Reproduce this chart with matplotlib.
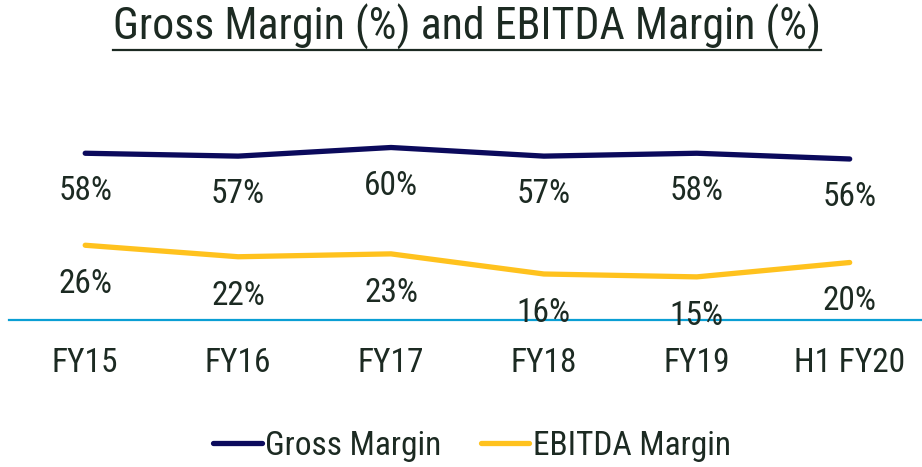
import matplotlib
matplotlib.use("Agg")
import matplotlib.pyplot as plt
from matplotlib.lines import Line2D

# data
periods = ["FY15", "FY16", "FY17", "FY18", "FY19", "H1 FY20"]
gross_margin = [58, 57, 60, 57, 58, 56]
ebitda_margin = [26, 22, 23, 16, 15, 20]

plt.rcParams['font.family'] = ['Roboto Condensed', 'DejaVu Sans']

txt_col = "#1c2a22"
navy = "#0b0a5c"
gold = "#ffc21e"
blue = "#0a9fd4"
fs = 24

fig = plt.figure(figsize=(9.22, 4.67), dpi=100)
ax = fig.add_axes([0.0095, 1 - 320 / 467, 0.995, (320 - 118.75) / 467])

x = list(range(len(periods)))
ax.plot(x, gross_margin, color=navy, lw=3.8, solid_capstyle='round', label="Gross Margin")
ax.plot(x, ebitda_margin, color=gold, lw=3.8, solid_capstyle='round', label="EBITDA Margin")

# value labels sit under each point
for xi, v in zip(x, gross_margin):
    ax.annotate(f"{v}%", (xi, v), xytext=(0, -27.5), textcoords="offset points",
                ha="center", va="center", fontsize=fs, color=txt_col)
for xi, v in zip(x, ebitda_margin):
    ax.annotate(f"{v}%", (xi, v), xytext=(0, -28), textcoords="offset points",
                ha="center", va="center", fontsize=fs, color=txt_col)

ax.set_xlim(-0.5, 5.5)
ax.set_ylim(0, 70)
ax.set_yticks([])
ax.set_xticks(x)
ax.set_xticklabels(periods, fontsize=fs, color=txt_col)
ax.tick_params(axis='x', length=0, pad=19.5)
for s in ["top", "right", "left"]:
    ax.spines[s].set_visible(False)
ax.spines["bottom"].set_color(blue)
ax.spines["bottom"].set_linewidth(1.6)
ax.patch.set_alpha(0)

leg = fig.legend(loc="center", bbox_to_anchor=(472 / 922, 1 - 446 / 467), ncol=2,
                 frameon=False, fontsize=fs, handlelength=1.45, handletextpad=0.1,
                 columnspacing=1.2, labelcolor=txt_col)

title = fig.text(467 / 922, 1 - 27 / 467, "Gross Margin (%) and EBITDA Margin (%)",
                 ha="center", va="center", fontsize=31.6, color=txt_col)

# underline the title
fig.canvas.draw()
bb = title.get_window_extent().transformed(fig.transFigure.inverted())
uy = 1 - 50 / 467
fig.add_artist(Line2D([bb.x0, bb.x1], [uy, uy], color=txt_col, lw=1.6,
                      transform=fig.transFigure))

fig.savefig("out.png", dpi=100)
